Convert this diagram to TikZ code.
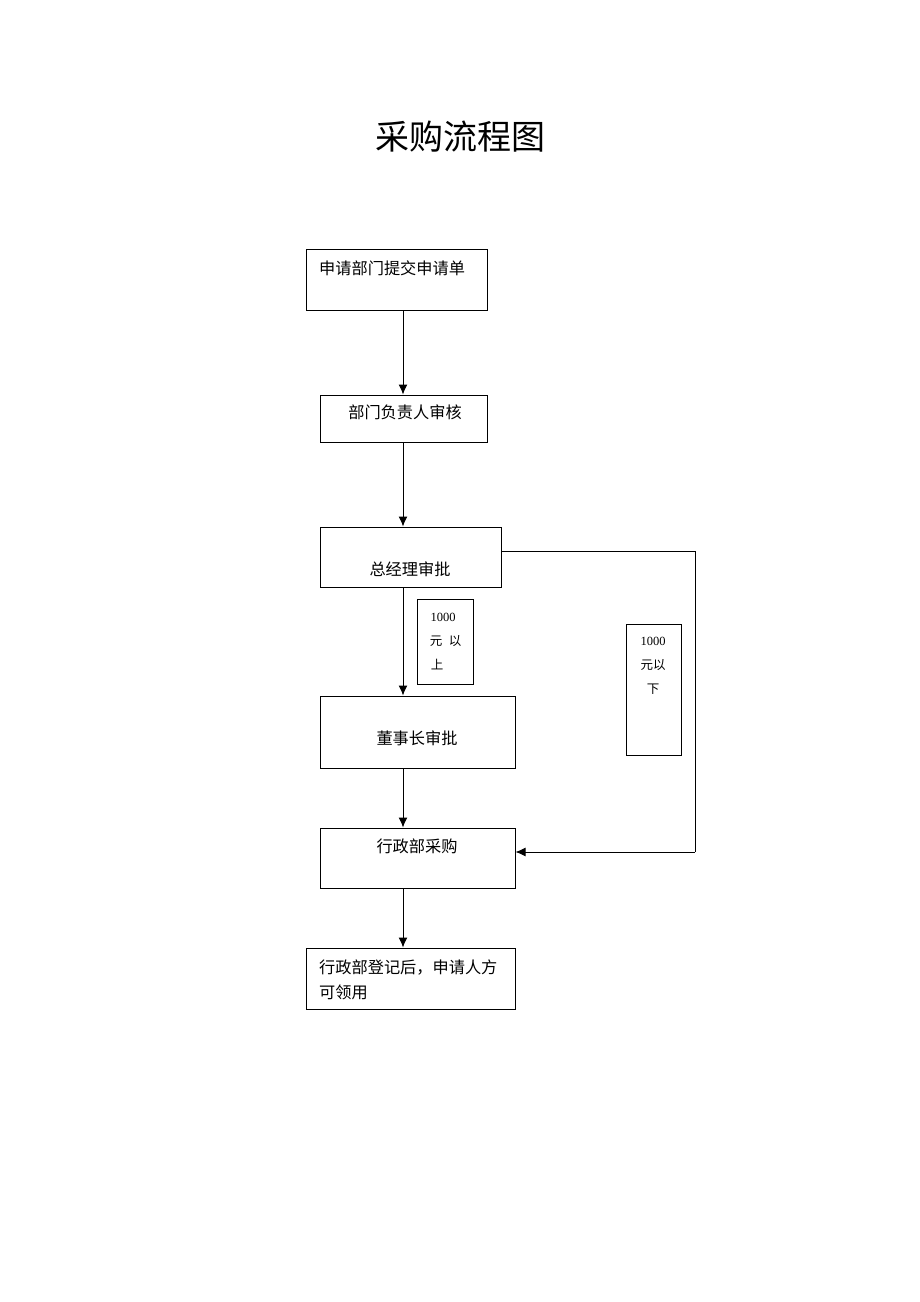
\documentclass[tikz,border=0pt]{standalone}
\usepackage{fontspec}
\setmainfont{Liberation Serif}
\newfontfamily\cjk{Noto Sans CJK SC}
\usetikzlibrary{arrows.meta}
\begin{document}
\begin{tikzpicture}[x=1pt,y=-1pt,
  box/.style={draw=black, line width=1pt, rectangle, inner sep=0pt},
  txt/.style={inner sep=0pt, font=\cjk\fontsize{16.2}{18}\selectfont},
  small/.style={inner sep=0pt, font=\fontsize{12.5}{14}\selectfont},
  smallc/.style={inner sep=0pt, font=\cjk\fontsize{12.5}{14}\selectfont},
  arr/.style={draw=black, line width=1pt, -{Latex[length=10pt,width=9pt]}},
  ln/.style={draw=black, line width=1pt}]
\useasboundingbox (0,0) rectangle (920,1302);
\fill[white] (0,0) rectangle (920,1302);
% title
\node[inner sep=0pt, font=\cjk\fontsize{34}{38}\selectfont] (title) at (460,137) {采购流程图};
% boxes
\node[box, minimum width=181pt, minimum height=61pt] (b1) at (396.5,279.5) {};
\node[txt, anchor=west] (t1) at (319,268) {申请部门提交申请单};
\node[box, minimum width=167pt, minimum height=47pt] (b2) at (403.5,418.5) {};
\node[txt] (t2) at (405,412) {部门负责人审核};
\node[box, minimum width=181pt, minimum height=60pt] (b3) at (410.5,557) {};
\node[txt] (t3) at (410,569) {总经理审批};
\node[box, minimum width=195pt, minimum height=72pt] (b4) at (417.5,732) {};
\node[txt] (t4) at (417,738) {董事长审批};
\node[box, minimum width=195pt, minimum height=60pt] (b5) at (417.5,858) {};
\node[txt] (t5) at (417,846) {行政部采购};
\node[box, minimum width=209pt, minimum height=61pt] (b6) at (410.5,978.5) {};
\node[txt, anchor=west] (t6a) at (319,968) {行政部登记后，申请人方};
\node[txt, anchor=west] (t6b) at (319,992) {可领用};
% label boxes
\node[box, minimum width=56pt, minimum height=85pt] (l1) at (445,641.5) {};
\node[small] (l1a) at (443,617) {1000};
\node[smallc] (l1b) at (436,641) {元};
\node[smallc] (l1c) at (455,641) {以};
\node[smallc] (l1d) at (437,665) {上};
\node[box, minimum width=55pt, minimum height=131pt] (l2) at (653.5,689.5) {};
\node[small] (l2a) at (653,641) {1000};
\node[smallc] (l2b) at (653,665) {元以};
\node[smallc] (l2c) at (653,689) {下};
% connectors
\coordinate (c1) at (695,551);
\coordinate (c2) at (695,852);
\draw[arr] (b1.south -| 403,0) -- (b2.north -| 403,0);
\draw[arr] (b2.south -| 403,0) -- (b3.north -| 403,0);
\draw[arr] (b3.south -| 403,0) -- (b4.north -| 403,0);
\draw[arr] (b4.south -| 403,0) -- (b5.north -| 403,0);
\draw[arr] (b5.south -| 403,0) -- (b6.north -| 403,0);
\draw[ln] (b3.east |- c1) -- (c1) -- (c2);
\draw[arr] (c2) -- (b5.east |- c2);
\end{tikzpicture}
\end{document}
